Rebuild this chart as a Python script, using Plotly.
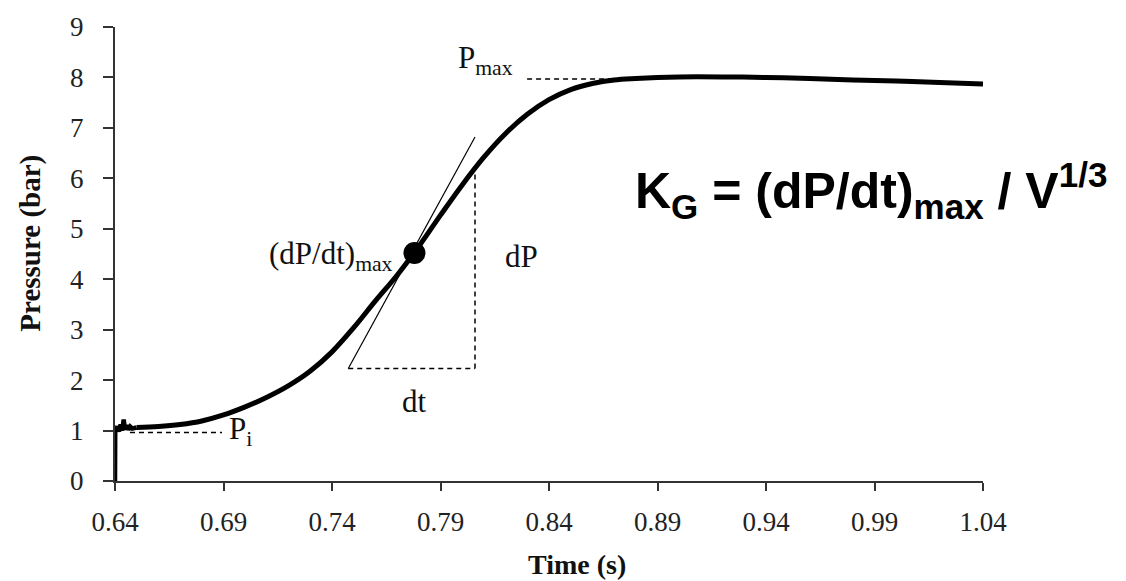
import plotly.graph_objects as go

# ---- data ----
time_s = [0.6400, 0.6401, 0.6410, 0.6418, 0.6426, 0.6434, 0.6440, 0.6446, 0.6454, 0.6462,
          0.6470, 0.6480, 0.6500, 0.6600, 0.6700, 0.6800, 0.6900, 0.7000, 0.7100, 0.7200,
          0.7300, 0.7400, 0.7500, 0.7600, 0.7700, 0.7800, 0.7900, 0.8000, 0.8100, 0.8200,
          0.8300, 0.8400, 0.8500, 0.8600, 0.8700, 0.8800, 0.8900, 0.9000, 0.9200, 0.9400,
          0.9600, 0.9800, 1.0000, 1.0200, 1.0400]
pressure_bar = [0.00, 1.00, 1.08, 0.98, 1.12, 1.00, 1.22, 1.02, 1.10, 1.02,
                1.08, 1.04, 1.06, 1.08, 1.12, 1.19, 1.31, 1.47, 1.66, 1.89,
                2.18, 2.56, 3.04, 3.57, 4.08, 4.65, 5.27, 5.87, 6.42, 6.89,
                7.27, 7.56, 7.76, 7.88, 7.95, 7.98, 8.00, 8.01, 8.01, 8.00,
                7.98, 7.95, 7.93, 7.90, 7.87]
noise_end = 13  # first points: ignition spike and noise (drawn straight)

max_rate_point = (0.778, 4.52)
tangent_t = [0.7475, 0.8059]
tangent_p = [2.23, 6.82]
dt_line_t = [0.7475, 0.8059]
dt_line_p = [2.23, 2.23]
dp_line_t = [0.8059, 0.8059]
dp_line_p = [2.23, 6.30]
pi_line_t = [0.6469, 0.6893]
pi_line_p = [0.96, 0.96]
pmax_line_t = [0.8299, 0.8680]
pmax_line_p = [7.97, 7.97]

x_ticks = [0.64, 0.69, 0.74, 0.79, 0.84, 0.89, 0.94, 0.99, 1.04]
x_ticktext = ["0.64", "0.69", "0.74", "0.79", "0.84", "0.89", "0.94", "0.99", "1.04"]
y_ticks = [0, 1, 2, 3, 4, 5, 6, 7, 8, 9]

SERIF = "Liberation Serif, Times New Roman, serif"
SANS = "Liberation Sans, Arial, sans-serif"

fig = go.Figure()

# noisy start (linear)
fig.add_trace(go.Scatter(x=time_s[:noise_end], y=pressure_bar[:noise_end], mode="lines",
                         line=dict(color="black", width=4.5), showlegend=False,
                         hoverinfo="skip"))
# main smooth curve
fig.add_trace(go.Scatter(x=time_s[noise_end - 1:], y=pressure_bar[noise_end - 1:], mode="lines",
                         line=dict(color="black", width=5, shape="spline", smoothing=1.0),
                         showlegend=False))

dash_style = dict(color="black", width=1.5, dash="5px,4px")
for xs, ys in [(dt_line_t, dt_line_p), (dp_line_t, dp_line_p),
               (pi_line_t, pi_line_p), (pmax_line_t, pmax_line_p)]:
    fig.add_trace(go.Scatter(x=xs, y=ys, mode="lines", line=dash_style,
                             showlegend=False, hoverinfo="skip"))

fig.add_trace(go.Scatter(x=tangent_t, y=tangent_p, mode="lines",
                         line=dict(color="black", width=1.2), showlegend=False,
                         hoverinfo="skip"))

fig.add_trace(go.Scatter(x=[max_rate_point[0]], y=[max_rate_point[1]], mode="markers",
                         marker=dict(color="black", size=22), showlegend=False))

lab_font = dict(family=SERIF, size=31, color="#111")
annos = [
    dict(x=0.769, y=4.47, text="(dP/dt)<sub>max</sub>", xanchor="right", yanchor="middle"),
    dict(x=0.8188, y=4.45, text="dP", xanchor="left", yanchor="middle"),
    dict(x=0.7782, y=1.58, text="dt", xanchor="center", yanchor="middle"),
    dict(x=0.797, y=8.35, text="P<sub>max</sub>", xanchor="left", yanchor="middle"),
    dict(x=0.6916, y=1.0, text="P<sub>i</sub>", xanchor="left", yanchor="middle"),
]
for a in annos:
    fig.add_annotation(xref="x", yref="y", showarrow=False, font=lab_font, **a)

fig.add_annotation(xref="x", yref="y", x=0.8787, y=5.75, xanchor="left", yanchor="middle",
                   showarrow=False,
                   text="<b>K<sub>G</sub> = (dP/dt)<sub>max</sub> / V<sup>1/3</sup></b>",
                   font=dict(family=SANS, size=50, color="black"))

# axis titles
fig.add_annotation(xref="paper", yref="paper", x=(577 - 115) / 868, y=-(566 - 481) / 461,
                   xanchor="center", yanchor="middle", showarrow=False,
                   text="<b>Time (s)</b>", font=dict(family=SERIF, size=28, color="#111"))
fig.add_annotation(xref="paper", yref="paper", x=-(115 - 31) / 868, y=(481 - 240) / 461,
                   xanchor="center", yanchor="middle", showarrow=False, textangle=-90,
                   text="<b>Pressure (bar)</b>", font=dict(family=SERIF, size=29, color="#111"))

axis_common = dict(showgrid=False, zeroline=False, showline=True, linecolor="#333",
                   linewidth=2, ticks="outside", tickcolor="#333", tickwidth=2,
                   tickfont=dict(family=SERIF, size=27, color="#222"))
fig.update_xaxes(range=[0.64, 1.04], tickvals=x_ticks, ticktext=x_ticktext, ticklen=8,
                 ticklabelstandoff=8, **axis_common)
fig.update_yaxes(range=[0, 9], tickvals=y_ticks, ticklen=10, ticklabelstandoff=14,
                 **axis_common)

fig.update_layout(width=1126, height=581, margin=dict(l=115, r=143, t=20, b=100),
                  plot_bgcolor="white", paper_bgcolor="white", showlegend=False)

fig.write_html("out.html")
